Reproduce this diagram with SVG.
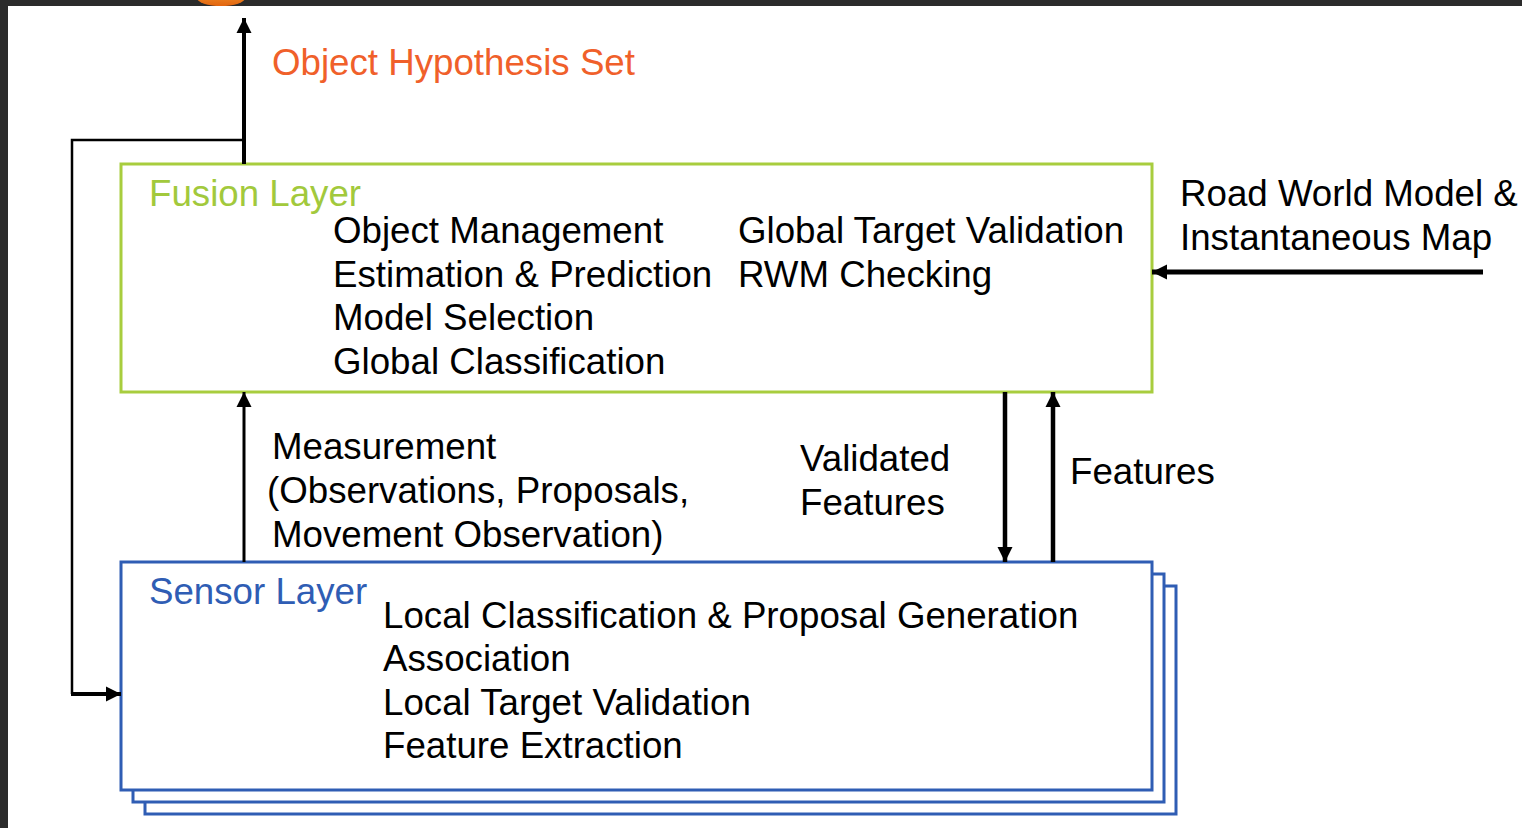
<svg xmlns="http://www.w3.org/2000/svg" width="1522" height="828" viewBox="0 0 1522 828">
  <style>
    .t { font-family: "Liberation Sans", Arial, Helvetica, sans-serif; font-size: 36.7px; fill: #000; }
    .title-fusion { fill: #a2c93c; }
    .title-sensor { fill: #2f5db4; }
    .out { fill: #f0602a; }
    .fusion-box { fill: #fff; stroke: #a8cd3e; stroke-width: 3; }
    .sensor-box { fill: #fff; stroke: #2f5db4; stroke-width: 3; }
    .wire { fill: none; stroke: #000; stroke-linecap: butt; stroke-linejoin: miter; }
  </style>
  <defs>
    <marker id="head" markerUnits="userSpaceOnUse" markerWidth="18" markerHeight="18" viewBox="0 0 18 18" refX="15" refY="9" orient="auto">
      <path d="M0,1.5 L15,9 L0,16.5 Z" fill="#000"/>
    </marker>
    <linearGradient id="blob" x1="0" y1="0" x2="0" y2="1">
      <stop offset="0" stop-color="#f39a2e"/>
      <stop offset="1" stop-color="#e2640f"/>
    </linearGradient>
  </defs>

  <!-- page background and window frame -->
  <rect x="0" y="0" width="1522" height="828" fill="#fff"/>
  <rect x="0" y="0" width="1522" height="6" fill="#2b2b2b"/>
  <rect x="0" y="0" width="8" height="828" fill="#2b2b2b"/>
  <ellipse cx="221" cy="-2" rx="24" ry="8" fill="url(#blob)"/>

  <!-- output label -->
  <text class="t out" x="272" y="75">Object Hypothesis Set</text>

  <!-- Sensor layer (stacked instances) -->
  <g id="sensor-layer">
    <rect class="sensor-box" x="145" y="586" width="1031" height="228"/>
    <rect class="sensor-box" x="133" y="574" width="1031" height="228"/>
    <rect class="sensor-box" x="121" y="562" width="1031" height="228"/>
    <text class="t title-sensor" x="149" y="604">Sensor Layer</text>
    <text class="t" x="383" y="628">Local Classification &amp; Proposal Generation</text>
    <text class="t" x="383" y="671">Association</text>
    <text class="t" x="383" y="715">Local Target Validation</text>
    <text class="t" x="383" y="758">Feature Extraction</text>
  </g>

  <!-- Fusion layer -->
  <g id="fusion-layer">
    <rect class="fusion-box" x="121" y="164" width="1031" height="228"/>
    <text class="t title-fusion" x="149" y="206">Fusion Layer</text>
    <text class="t" x="333" y="243">Object Management</text>
    <text class="t" x="333" y="287">Estimation &amp; Prediction</text>
    <text class="t" x="333" y="330">Model Selection</text>
    <text class="t" x="333" y="374">Global Classification</text>
    <text class="t" x="738" y="243">Global Target Validation</text>
    <text class="t" x="738" y="287">RWM Checking</text>
  </g>

  <!-- Road world model input -->
  <g id="rwm-input">
    <text class="t" x="1180" y="206">Road World Model &amp;</text>
    <text class="t" x="1180" y="250">Instantaneous Map</text>
  </g>

  <!-- connectors -->
  <g id="connectors">
    <!-- fusion output upwards -->
    <line class="wire" x1="244" y1="164" x2="244" y2="18" stroke-width="4" marker-end="url(#head)"/>
    <!-- feedback to sensor layer -->
    <polyline class="wire" points="244,140 72,140 72,694" stroke-width="2.5"/>
    <line class="wire" x1="71" y1="694" x2="121" y2="694" stroke-width="4" marker-end="url(#head)"/>
    <!-- measurements up -->
    <line class="wire" x1="244" y1="562" x2="244" y2="392" stroke-width="3" marker-end="url(#head)"/>
    <!-- validated features down -->
    <line class="wire" x1="1005" y1="392" x2="1005" y2="562" stroke-width="4.5" marker-end="url(#head)"/>
    <!-- features up -->
    <line class="wire" x1="1053" y1="562" x2="1053" y2="392" stroke-width="4.5" marker-end="url(#head)"/>
    <!-- road world model into fusion -->
    <line class="wire" x1="1483" y1="272" x2="1152" y2="272" stroke-width="5" marker-end="url(#head)"/>
  </g>

  <!-- connector labels -->
  <g id="labels">
    <text class="t" x="272" y="459">Measurement</text>
    <text class="t" x="267" y="503">(Observations, Proposals,</text>
    <text class="t" x="272" y="547">Movement Observation)</text>
    <text class="t" x="800" y="471">Validated</text>
    <text class="t" x="800" y="515">Features</text>
    <text class="t" x="1070" y="484">Features</text>
  </g>
</svg>
